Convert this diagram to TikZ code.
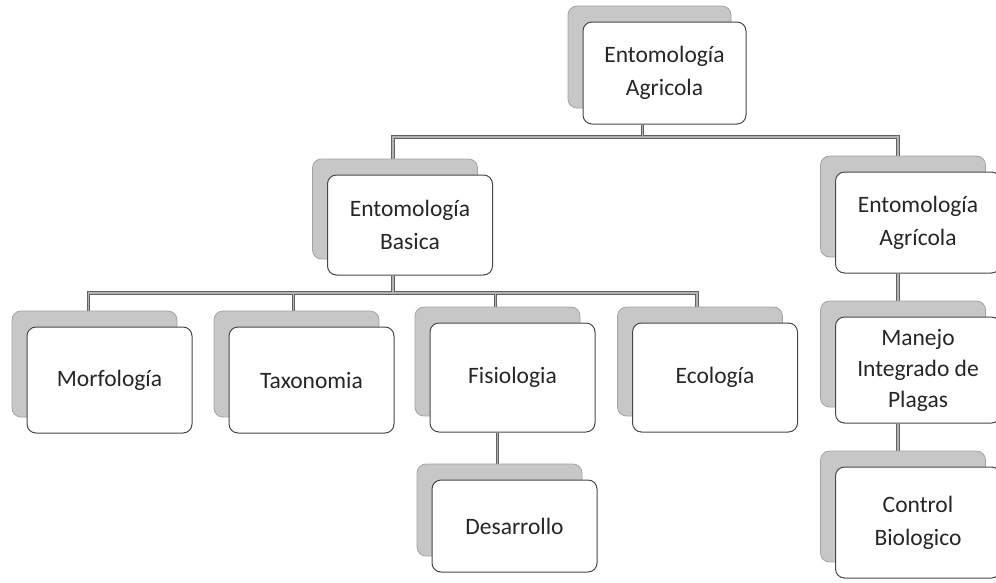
\documentclass[tikz,border=0pt]{standalone}
\usepackage{fontspec}
\setmainfont{Carlito}
\usetikzlibrary{shadows,backgrounds}
\newcommand\myconns[1]{%
  \draw[#1] (topD) -- (topD |- b1);
  \draw[#1] (basS) |- (agrS |- b1) -- (agrS);
  \draw[#1] (basD) -- (basD |- b2);
  \draw[#1] (morS) |- (ecoS |- b2) -- (ecoS);
  \draw[#1] (taxS) -- (taxS |- b2);
  \draw[#1] (fisS) -- (fisS |- b2);
  \draw[#1] (fisD) -- (desS);
  \draw[#1] (agrD) -- (manS);
  \draw[#1] (manD) -- (conS);
}
\begin{document}
\begin{tikzpicture}[x=1pt,y=-1pt,
  box/.style={draw=black!72, line width=1pt, fill=white, rounded corners=9pt,
    minimum width=165pt, minimum height=104pt, align=center, inner sep=2pt,
    font=\fontsize{23.5}{33}\selectfont, text=black!85,
    copy shadow={shadow xshift=-15pt, shadow yshift=16pt, fill=black!22, draw=black!36, line width=0.8pt}},
  outerlink/.style={draw=black!62, line width=3.2pt},
  innerlink/.style={draw=black!30, line width=1.4pt}]
\useasboundingbox (0,0) rectangle (996,582);
\clip (0,0) rectangle (996,582);

\node[box, minimum width=163pt, minimum height=102pt] (top) at (664.5,73) {Entomología\\Agricola};
\node[box, minimum height=100pt] (bas) at (410,225) {Entomología\\Basica};
\node[box, minimum height=101pt] (agr) at (918,222.5) {Entomología\\Agrícola};
\node[box, minimum height=106pt] (mor) at (109.5,380) {Morfología};
\node[box, minimum height=106pt] (tax) at (311.5,380) {Taxonomia};
\node[box, minimum height=109pt] (fis) at (512.5,377.5) {Fisiologia};
\node[box, minimum height=109pt] (eco) at (715,377.5) {Ecología};
\node[box, minimum height=92pt] (des) at (514.5,526) {Desarrollo};
\node[box, minimum height=106pt, font=\fontsize{23.5}{31}\selectfont] (man) at (918,370) {Manejo\\Integrado de\\Plagas};
\node[box, minimum height=111pt] (con) at (918,522.5) {Control\\Biologico};

\coordinate (b1) at (0,137);
\coordinate (b2) at (0,293);
\coordinate (topD) at ([xshift=-22pt]top.south);
\coordinate (basS) at ([xshift=-17pt,yshift=16pt]bas.north);
\coordinate (agrS) at ([xshift=-20pt,yshift=16pt]agr.north);
\coordinate (basD) at ([xshift=-17pt]bas.south);
\coordinate (morS) at ([xshift=-21pt,yshift=16pt]mor.north);
\coordinate (taxS) at ([xshift=-18pt,yshift=16pt]tax.north);
\coordinate (fisS) at ([xshift=-17pt,yshift=16pt]fis.north);
\coordinate (ecoS) at ([xshift=-18pt,yshift=16pt]eco.north);
\coordinate (fisD) at ([xshift=-15pt]fis.south);
\coordinate (desS) at ([xshift=-17pt,yshift=16pt]des.north);
\coordinate (agrD) at ([xshift=-20pt]agr.south);
\coordinate (manS) at ([xshift=-20pt,yshift=16pt]man.north);
\coordinate (manD) at ([xshift=-20pt]man.south);
\coordinate (conS) at ([xshift=-20pt,yshift=16pt]con.north);

\begin{scope}[on background layer]
\myconns{outerlink}
\myconns{innerlink}
\end{scope}
\end{tikzpicture}
\end{document}
